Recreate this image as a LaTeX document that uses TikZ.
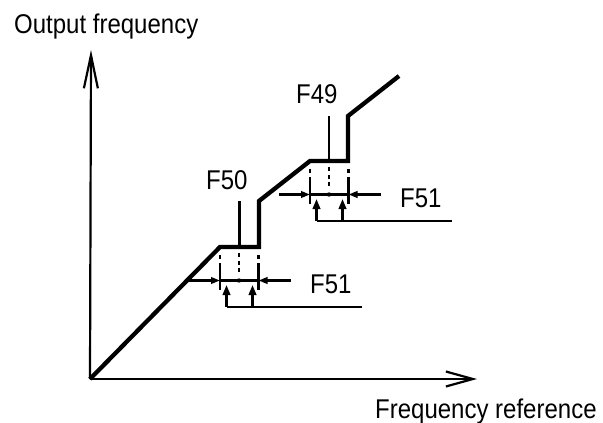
\documentclass[tikz,border=0pt]{standalone}
\usepackage{fontspec}
\usepackage{graphicx}
\setmainfont{Liberation Sans}
\usetikzlibrary{arrows.meta}
\newcommand\talltext[1]{\scalebox{1}[1.13]{#1}}
\tikzset{
  lbl/.style={inner sep=0pt, anchor=base west, font=\fontsize{24}{28}\selectfont},
  thinln/.style={line width=2.2pt},
  curveln/.style={line width=4.3pt, line join=miter},
  hhead/.style={-{Triangle[length=9pt,width=6.5pt]}},
  vhead/.style={-{Triangle[length=10pt,width=7.5pt]}},
  grp/.pic={
    % dashed guide lines below the plateau
    \draw[thinln] (0,8) -- (0,12) (0,16) -- (0,43);
    \draw[thinln] (38.5,8) -- (38.5,12) (38.5,16) -- (38.5,43);
    \draw[line width=2.5pt] (19,6) -- (19,10) (19,14) -- (19,17.5) (19,20.5) -- (19,24.5);
    % horizontal line with inward arrows
    \coordinate (-hl) at (-31,33.5);
    \coordinate (-hr) at (71,33.5);
    \coordinate (-tl) at (0,33.5);
    \coordinate (-tr) at (38.5,33.5);
    \draw[thinln] (-tl) -- (-tr);
    \draw[thinln,hhead] (-hl) -- (-tl);
    \draw[thinln,hhead] (-hr) -- (-tr);
    \fill (19,33.5) circle[radius=2.2pt];
    % bracket with upward arrows
    \coordinate (-b1) at (6.5,60);
    \coordinate (-b2) at (32.5,60);
    \coordinate (-be) at (142,60);
    \coordinate (-a1) at (6.5,38);
    \coordinate (-a2) at (32.5,38);
    \draw[thinln] (-b1) -- (-be);
    \draw[thinln,vhead] (-b1) -- (-a1);
    \draw[thinln,vhead] (-b2) -- (-a2);
    \node[lbl] (-lab) at (90,46) {\talltext{F51}};
  }
}
\begin{document}
\begin{tikzpicture}[x=1pt,y=-1pt]
\useasboundingbox (0,0) rectangle (603,423);
% axes
\coordinate (O) at (90,379);
\coordinate (ytop) at (91,50);
\coordinate (xend) at (477,379);
\draw[thinln,-{Straight Barb[length=33pt,width=14pt]}] (O) -- (ytop);
\draw[thinln,-{Straight Barb[length=27pt,width=15pt]}] (O) -- (xend);
\node[lbl] (ylab) at (14,33) {\talltext{Output frequency}};
\node[lbl] (xlab) at (375,418) {\talltext{Frequency reference}};
% output curve
\coordinate (p1) at (220,247);
\coordinate (p2) at (259,247);
\coordinate (p3) at (259,201);
\coordinate (p4) at (310,161);
\coordinate (p5) at (348,161);
\coordinate (p6) at (348,116);
\coordinate (p7) at (399,76);
\draw[curveln] (O) -- (p1) -- (p2) -- (p3) -- (p4) -- (p5) -- (p6) -- (p7);
% jump frequency markers
\coordinate (f50top) at (239.5,201);
\coordinate (f50bot) at (239.5,247);
\coordinate (f49top) at (329,116);
\coordinate (f49bot) at (329,161);
\draw[thinln] (f50top) -- (f50bot);
\draw[thinln] (f49top) -- (f49bot);
\node[lbl] (f50) at (206,189) {\talltext{F50}};
\node[lbl] (f49) at (296,103) {\talltext{F49}};
% hysteresis brackets
\pic (lo) at (p1) {grp};
\pic (up) at (p4) {grp};
\end{tikzpicture}
\end{document}
